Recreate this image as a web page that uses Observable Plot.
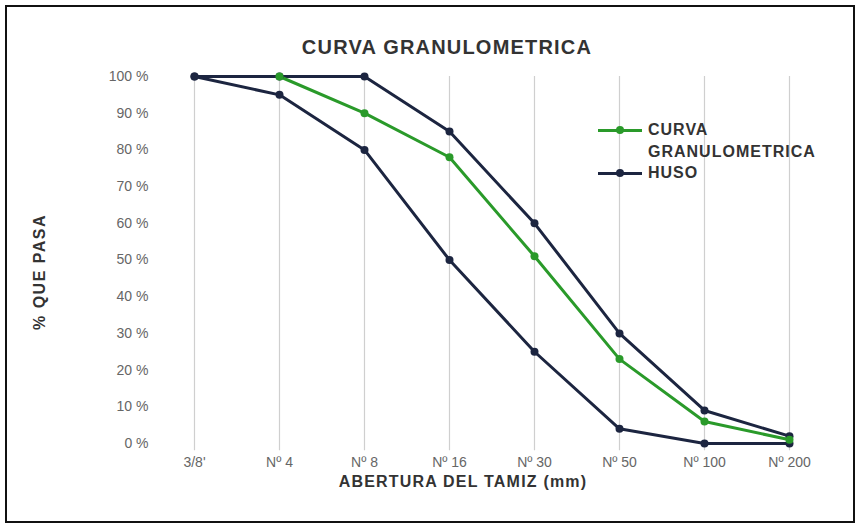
<!DOCTYPE html>
<html>
<head>
<meta charset="utf-8">
<script src="https://cdn.jsdelivr.net/npm/d3@7"></script>
<script src="https://cdn.jsdelivr.net/npm/@observablehq/plot@0.6"></script>
<style>
  html, body { margin: 0; padding: 0; background: #fff; }
  #wrap { position: relative; width: 864px; height: 532px; overflow: hidden; font-family: "Liberation Sans", Arial, sans-serif; }
  #frame { position: absolute; left: 5px; top: 5px; width: 850px; height: 518px; border: 2px solid #111; box-sizing: border-box; pointer-events: none; }
  #title { position: absolute; left: 0; width: 894px; top: 36px; text-align: center; font-size: 20px; font-weight: bold; color: #333; letter-spacing: 1.2px; }
  #ylab { position: absolute; left: 40px; top: 272px; transform: translate(-50%, -50%) rotate(-90deg); font-size: 16px; font-weight: bold; color: #333; white-space: nowrap; letter-spacing: 1.5px; }
  #xlab { position: absolute; left: 0; width: 926px; top: 473px; text-align: center; font-size: 16px; font-weight: bold; color: #333; letter-spacing: 1.2px; }
  .leg { position: absolute; font-size: 16px; font-weight: bold; color: #333; line-height: 22px; letter-spacing: 1px; }
  .legline { position: absolute; height: 3px; }
  .legdot { position: absolute; width: 8px; height: 8px; border-radius: 50%; }
</style>
</head>
<body>
<div id="wrap">
  <div id="chart"></div>
  <div id="title">CURVA GRANULOMETRICA</div>
  <div id="ylab">% QUE PASA</div>
  <div id="xlab">ABERTURA DEL TAMIZ (mm)</div>
  <div id="legend"></div>
  <div id="frame"></div>
</div>
<script>
const categories = ["3/8'", "Nº 4", "Nº 8", "Nº 16", "Nº 30", "Nº 50", "Nº 100", "Nº 200"];
const curva = [null, 100, 90, 78, 51, 23, 6, 1];
const husoSuperior = [100, 100, 100, 85, 60, 30, 9, 2];
const husoInferior = [100, 95, 80, 50, 25, 4, 0, 0];
const yTicks = [0, 10, 20, 30, 40, 50, 60, 70, 80, 90, 100];
const seriesNames = ["CURVA\nGRANULOMETRICA", "HUSO"];
const colors = { curva: "#2a9a2a", huso: "#1c2540" };

const rows = [];
categories.forEach((c, i) => {
  if (curva[i] != null) rows.push({ cat: c, v: curva[i], s: "curva" });
  rows.push({ cat: c, v: husoSuperior[i], s: "sup" });
  rows.push({ cat: c, v: husoInferior[i], s: "inf" });
});
const sup = rows.filter(d => d.s === "sup");
const inf = rows.filter(d => d.s === "inf");
const cur = rows.filter(d => d.s === "curva");

const chart = Plot.plot({
  width: 864,
  height: 532,
  marginLeft: 193,
  marginRight: 75,
  marginTop: 76,
  marginBottom: 89,
  style: { fontFamily: "'Liberation Sans', Arial, sans-serif", background: "transparent" },
  x: { type: "point", domain: categories, padding: 0, label: null },
  y: { domain: [0, 100], label: null },
  marks: [
    Plot.ruleX(categories, { y1: -2, y2: 100, stroke: "#cfcfcf", strokeWidth: 1.2 }),
    Plot.axisX({ tickSize: 0, tickPadding: 14, fontSize: 14, fill: "#666", label: null }),
    Plot.axisY(yTicks, { tickSize: 0, tickPadding: 45, fontSize: 14, fill: "#666", label: null, tickFormat: d => d + " %" }),
    Plot.line(sup, { x: "cat", y: "v", stroke: colors.huso, strokeWidth: 3 }),
    Plot.line(inf, { x: "cat", y: "v", stroke: colors.huso, strokeWidth: 3 }),
    Plot.line(cur, { x: "cat", y: "v", stroke: colors.curva, strokeWidth: 3 }),
    Plot.dot(sup, { x: "cat", y: "v", fill: colors.huso, r: 4 }),
    Plot.dot(inf, { x: "cat", y: "v", fill: colors.huso, r: 4 }),
    Plot.dot(cur, { x: "cat", y: "v", fill: colors.curva, r: 4 })
  ]
});
document.getElementById("chart").appendChild(chart);

// legend
const legend = document.getElementById("legend");
const legItems = [
  { name: seriesNames[0], color: colors.curva, y: 130 },
  { name: seriesNames[1], color: colors.huso, y: 173 }
];
legItems.forEach(it => {
  const l = document.createElement("div");
  l.className = "legline";
  l.style.left = "598px"; l.style.width = "44px"; l.style.top = (it.y - 1.5) + "px"; l.style.background = it.color;
  legend.appendChild(l);
  const d = document.createElement("div");
  d.className = "legdot";
  d.style.left = "616px"; d.style.top = (it.y - 4) + "px"; d.style.background = it.color;
  legend.appendChild(d);
  const t = document.createElement("div");
  t.className = "leg";
  t.style.left = "648px"; t.style.top = (it.y - 11) + "px";
  t.innerHTML = it.name.replace("\n", "<br>");
  legend.appendChild(t);
});
</script>
</body>
</html>
